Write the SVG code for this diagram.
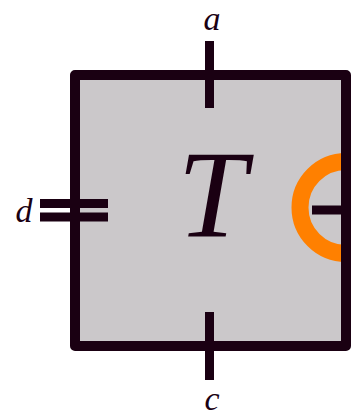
<svg xmlns="http://www.w3.org/2000/svg" width="351" height="416" viewBox="0 0 351 416">
<style>
.edge{stroke:#1a0012;stroke-width:9;fill:none}
.lbl{font-family:"Liberation Serif",serif;font-style:italic;fill:#1a0012;text-anchor:middle}
</style>
<rect width="351" height="416" fill="#ffffff"/>
<g id="T">
<rect x="75" y="75" width="271" height="271" fill="#cbc8ca"/>
<circle cx="346" cy="207.5" r="46" fill="none" stroke="#ff8000" stroke-width="17"/>
<rect x="75" y="75" width="271" height="271" fill="none" stroke="#1a0012" stroke-width="10" stroke-linejoin="round"/>
<text class="lbl" x="212" y="237" font-size="124">T</text>
</g>
<g id="connectors">
<line class="edge" x1="209.5" y1="41" x2="209.5" y2="108"/>
<line class="edge" x1="209.5" y1="312" x2="209.5" y2="380"/>
<line class="edge" x1="40" y1="203.5" x2="108" y2="203.5"/>
<line class="edge" x1="40" y1="217" x2="108" y2="217"/>
<line class="edge" x1="312" y1="210" x2="346" y2="210"/>
</g>
<g id="labels">
<text class="lbl" x="212" y="30" font-size="34">a</text>
<text class="lbl" x="212" y="410" font-size="34">c</text>
<text class="lbl" x="24" y="222" font-size="34">d</text>
</g>
</svg>
